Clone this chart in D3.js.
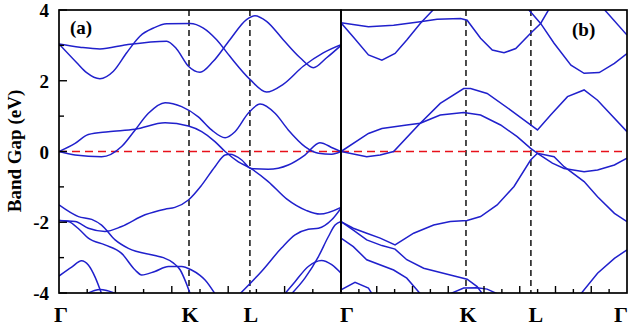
<!DOCTYPE html>
<html>
<head>
<meta charset="utf-8">
<script src="https://cdn.jsdelivr.net/npm/d3@7"></script>
<style>
body { margin: 0; background: #fff; }
text { font-family: "Liberation Serif", "Times New Roman", serif; font-weight: bold; }
</style>
</head>
<body>
<script>
// k-path labels and y ticks
var kLabels = ["Γ", "K", "L", "Γ"];
var kPosA = [0, 0.461, 0.677, 1];
var kPosB = [0, 0.437, 0.664, 1];
var yTicks = [4, 2, 0, -2, -4];
var yMinor = [3, 1, -1, -3];

// panel (a) bands : [k, E(eV)]
var aU1 = [[0,3.04],[0.063,2.51],[0.098,2.23],[0.145,2.06],[0.193,2.27],[0.24,2.79],[0.287,3.26],[0.335,3.49],[0.382,3.61],[0.465,3.62],[0.512,3.49],[0.559,3.16],[0.606,2.69],[0.677,2.04],[0.736,1.68],[0.795,1.9],[0.866,2.41],[0.937,2.79],[1,3.02]];
var aU2 = [[0,3.04],[0.074,2.95],[0.145,2.9],[0.24,3.02],[0.382,3.12],[0.417,2.9],[0.459,2.41],[0.5,2.24],[0.547,2.55],[0.606,3.16],[0.665,3.73],[0.695,3.84],[0.736,3.68],[0.795,3.16],[0.855,2.65],[0.902,2.37],[0.949,2.65],[1,3.0]];
var aM1 = [[0,0],[0.057,-0.1],[0.151,-0.15],[0.222,0.14],[0.27,0.61],[0.317,1.08],[0.376,1.38],[0.435,1.27],[0.494,0.98],[0.541,0.61],[0.589,0.39],[0.624,0.56],[0.671,1.08],[0.713,1.34],[0.766,1.08],[0.813,0.61],[0.872,0.14],[0.92,-0.05],[0.967,-0.08],[1,0]];
var aM2 = [[0,0],[0.057,0.23],[0.104,0.48],[0.175,0.56],[0.27,0.63],[0.376,0.81],[0.459,0.72],[0.506,0.56],[0.553,0.28],[0.589,0],[0.636,-0.29],[0.68,-0.48],[0.742,-0.85],[0.807,-1.34],[0.878,-1.67],[0.925,-1.77],[1,-1.58]];
var aL0 = [[0,-1.95],[0.057,-1.98],[0.104,-2.17],[0.163,-2.26],[0.222,-2.12],[0.305,-1.79],[0.376,-1.63],[0.411,-1.58],[0.459,-1.37],[0.506,-0.95],[0.553,-0.43],[0.589,-0.1],[0.606,-0.08],[0.648,-0.24],[0.68,-0.48],[0.742,-0.5],[0.813,-0.38],[0.872,-0.1],[0.925,0.25],[0.973,0.09],[1,0]];
var aL1 = [[0,-1.51],[0.069,-1.84],[0.116,-1.92],[0.151,-2.08],[0.199,-2.5],[0.246,-2.74],[0.34,-2.94],[0.37,-3.0],[0.405,-3.15],[0.43,-3.35],[0.45,-3.7],[0.465,-4.02]];
var aL2 = [[0,-1.95],[0.033,-1.98],[0.074,-2.22],[0.104,-2.45],[0.163,-2.64],[0.222,-2.88],[0.27,-3.35],[0.293,-3.49],[0.34,-3.39],[0.388,-3.25],[0.435,-3.25],[0.47,-3.35],[0.5,-3.5],[0.518,-3.63],[0.553,-4.02]];
var aL3 = [[0,-3.52],[0.045,-3.27],[0.08,-3.09],[0.104,-3.21],[0.128,-3.55],[0.151,-4.02]];
var aL4 = [[0.098,-4.02],[0.145,-3.9],[0.204,-4.02]];
var aL5 = [[0.642,-4.02],[0.718,-3.39],[0.789,-2.73],[0.837,-2.36],[0.884,-2.2],[0.92,-2.17],[0.967,-1.93],[1,-1.6]];
var aL6 = [[0.825,-4.02],[0.872,-3.58],[0.92,-2.97],[0.955,-2.41],[0.979,-2.08],[1,-1.98]];
var aL7 = [[0.801,-4.02],[0.837,-3.68],[0.884,-3.25],[0.931,-3.08],[0.967,-3.2],[1,-3.44]];

// panel (b) bands
var bU1 = [[0,3.64],[0.096,3.53],[0.184,3.57],[0.277,3.67],[0.336,3.74],[0.418,3.76],[0.441,3.71],[0.488,3.2],[0.529,2.87],[0.57,2.79],[0.611,2.91],[0.663,3.34],[0.698,3.62],[0.727,4.02]];
var bU2 = [[0,3.64],[0.043,3.24],[0.096,2.73],[0.143,2.58],[0.189,2.77],[0.23,3.15],[0.277,3.62],[0.324,4.02]];
var bU3 = [[0.655,4.02],[0.698,3.62],[0.745,3.06],[0.804,2.44],[0.85,2.21],[0.903,2.23],[0.956,2.49],[1,2.77]];
var bU4 = [[0.92,4.02],[1,3.29]];
var bM1 = [[0,0],[0.096,0.51],[0.143,0.65],[0.23,0.75],[0.277,0.8],[0.347,1.36],[0.429,1.78],[0.453,1.78],[0.511,1.64],[0.593,1.17],[0.663,0.75],[0.687,0.61],[0.733,1.03],[0.792,1.55],[0.85,1.74],[0.897,1.45],[1,0.56]];
var bM2 = [[0,0],[0.09,-0.15],[0.137,-0.1],[0.184,0],[0.277,0.8],[0.347,1.03],[0.429,1.1],[0.488,1.03],[0.558,0.75],[0.616,0.42],[0.663,0.09],[0.687,-0.05],[0.739,-0.33],[0.78,-0.48],[0.85,-0.57],[0.897,-0.52],[0.956,-0.38],[1,-0.19]];
var bL0 = [[0,-1.98],[0.043,-2.17],[0.09,-2.31],[0.137,-2.45],[0.189,-2.64],[0.254,-2.31],[0.324,-2.08],[0.382,-1.98],[0.441,-1.95],[0.488,-1.84],[0.546,-1.51],[0.605,-0.99],[0.663,-0.24],[0.687,-0.05],[0.745,-0.15],[0.78,-0.43],[0.85,-0.85],[0.897,-1.28],[0.956,-1.75],[1,-1.98]];
var bL1 = [[0,-1.98],[0.043,-2.22],[0.09,-2.5],[0.143,-2.66],[0.189,-2.76],[0.23,-3.06],[0.289,-3.3],[0.382,-3.49],[0.441,-3.61],[0.476,-3.82],[0.494,-4.02]];
var bL2 = [[0,-2.45],[0.043,-2.69],[0.09,-3.06],[0.184,-3.35],[0.23,-3.58],[0.277,-4.02]];
var bL3 = [[0,-3.91],[0.049,-3.7],[0.096,-3.86],[0.108,-4.02]];
var bL4 = [[0.382,-4.02],[0.429,-3.86],[0.476,-3.85],[0.511,-3.89],[0.546,-4.02]];
var bL5 = [[0.839,-4.02],[0.897,-3.44],[0.956,-3.02],[1,-2.78]];

var bandsA = [aU1, aU2, aM1, aM2, aL0, aL1, aL2, aL3, aL4, aL5, aL6, aL7];
var bandsB = [bU1, bU2, bU3, bU4, bM1, bM2, bL0, bL1, bL2, bL3, bL4, bL5];

var svg = d3.select("body").append("svg").attr("width", 634).attr("height", 330);

var y = d3.scaleLinear().domain([-4, 4]).range([293, 10]);
var xa = d3.scaleLinear().domain([0, 1]).range([59, 341]);
var xb = d3.scaleLinear().domain([0, 1]).range([341, 627]);

function drawPanel(x, bands, curve, kPos, nMajor, id) {
    var g = svg.append("g");
    var x0 = x.range()[0], x1 = x.range()[1];

    g.append("clipPath").attr("id", id).append("rect")
        .attr("x", x0).attr("y", y(4)).attr("width", x1 - x0).attr("height", y(-4) - y(4));

    // vertical K, L lines
    g.selectAll(".kline").data(kPos.slice(1, 3)).enter().append("line")
        .attr("x1", function(d){ return x(d); }).attr("x2", function(d){ return x(d); })
        .attr("y1", y(4)).attr("y2", y(-4))
        .attr("stroke", "#111").attr("stroke-width", 1.5).attr("stroke-dasharray", "6,4");

    // fermi level
    g.append("line").attr("x1", x0).attr("x2", x1).attr("y1", y(0)).attr("y2", y(0))
        .attr("stroke", "#e8101a").attr("stroke-width", 1.4).attr("stroke-dasharray", "8,5");

    var line = d3.line().x(function(d){ return x(d[0]); }).y(function(d){ return y(d[1]); }).curve(curve);
    g.append("g").attr("clip-path", "url(#" + id + ")")
        .selectAll("path").data(bands).enter().append("path")
        .attr("d", line).attr("fill", "none").attr("stroke", "#2020cc").attr("stroke-width", 1.5);

    // bottom ticks, pointing inward
    var ticks = [];
    for (var i = 1; i < nMajor * 2; i++) ticks.push({v: i / (nMajor * 2), major: i % 2 == 0});
    g.selectAll(".xt").data(ticks).enter().append("line")
        .attr("x1", function(d){ return x(d.v); }).attr("x2", function(d){ return x(d.v); })
        .attr("y1", y(-4)).attr("y2", function(d){ return y(-4) - (d.major ? 7 : 4); })
        .attr("stroke", "#000").attr("stroke-width", 1.4);

    g.append("rect").attr("x", x0).attr("y", y(4)).attr("width", x1 - x0).attr("height", y(-4) - y(4))
        .attr("fill", "none").attr("stroke", "#000").attr("stroke-width", 1.7);
}

drawPanel(xa, bandsA, d3.curveMonotoneX, kPosA, 5, "clipA");
drawPanel(xb, bandsB, d3.curveLinear, kPosB, 8, "clipB");

// y axis ticks on the left
svg.selectAll(".yt").data(yTicks).enter().append("line")
    .attr("x1", 59).attr("x2", 67).attr("y1", function(d){ return y(d); }).attr("y2", function(d){ return y(d); })
    .attr("stroke", "#000").attr("stroke-width", 1.4);
svg.selectAll(".ym").data(yMinor).enter().append("line")
    .attr("x1", 59).attr("x2", 64).attr("y1", function(d){ return y(d); }).attr("y2", function(d){ return y(d); })
    .attr("stroke", "#000").attr("stroke-width", 1.4);
svg.selectAll(".yl").data(yTicks).enter().append("text")
    .attr("x", 49).attr("y", function(d){ return y(d) + 7; })
    .attr("text-anchor", "end").attr("font-size", 19)
    .text(function(d){ return d; });

svg.append("text").attr("transform", "translate(21,151) rotate(-90)")
    .attr("text-anchor", "middle").attr("font-size", 19).text("Band Gap (eV)");

// high symmetry point labels
var labA = kLabels.map(function(s, i){ return {s: s, x: xa(kPosA[i]) + [2, 1, 1, 6][i]}; });
var labB = kLabels.slice(1).map(function(s, i){ return {s: s, x: xb(kPosB[i + 1]) + [2, 5, -6][i]}; });
svg.selectAll(".kl").data(labA.concat(labB)).enter().append("text")
    .attr("x", function(d){ return d.x; }).attr("y", 322)
    .attr("text-anchor", "middle").attr("font-size", 22)
    .text(function(d){ return d.s; });

svg.append("text").attr("x", 70).attr("y", 34).attr("font-size", 19).text("(a)");
svg.append("text").attr("x", 572).attr("y", 36).attr("font-size", 19).text("(b)");
</script>
</body>
</html>
